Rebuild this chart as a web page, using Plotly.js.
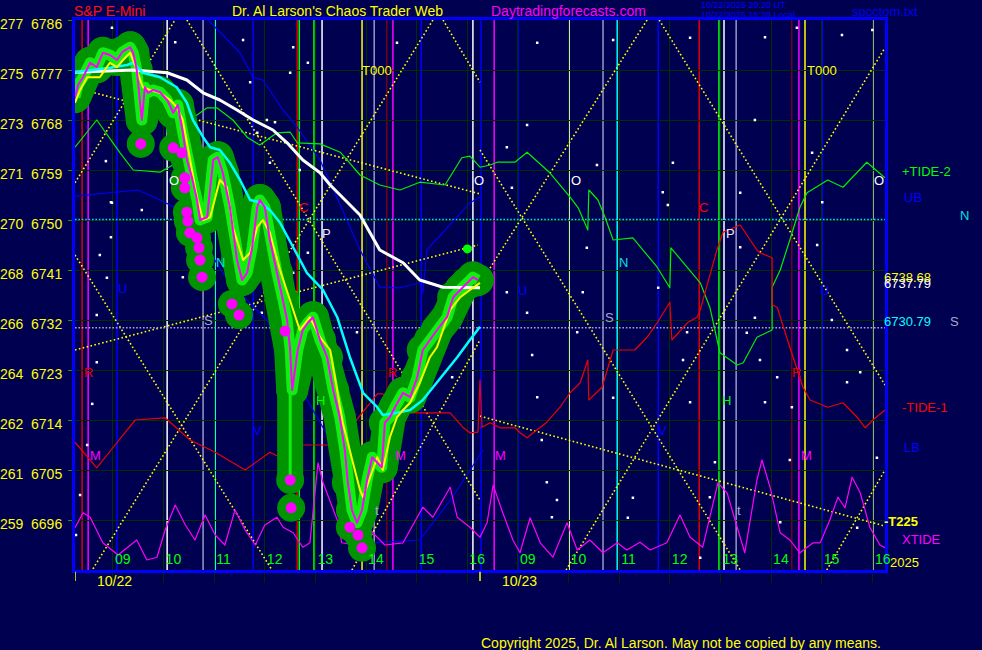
<!DOCTYPE html>
<html><head><meta charset="utf-8">
<script src="https://cdn.plot.ly/plotly-3.0.1.min.js"></script>
<style>
html,body{margin:0;padding:0;background:#000050;}
#chart{width:982px;height:650px;}
.js-line{stroke-linejoin:round;}
</style>
</head><body><div id="chart"></div>
<script>
// ---------- axis data ----------
const hourTicks  = [9,10,11,12,13,14,15,16,17,18,19,20,21,22,23,24];
const hourLabels = ['09','10','11','12','13','14','15','16','09','10','11','12','13','14','15','16'];
const dayStarts  = [8.25, 16.25];
const dayLabels  = ['10/22','10/23'];
const priceTicks = [6687,6696,6705,6714,6723,6732,6741,6750,6759,6768,6777,6786];
const degreeLabels = ['257','259','261','262','264','266','268','270','271','273','275','277'];

// ---------- price action (day 1) : [hour, price] ----------
const closePath = [[8.25,6772.1],[8.31,6774.3],[8.41,6775.7],[8.55,6778.3],[8.68,6777.5],[8.80,6780.1],[8.94,6779.7],[9.08,6778.8],[9.18,6780.2],[9.34,6781.1],[9.40,6780.1],[9.47,6777.0],[9.57,6768.0],[9.63,6773.9],[9.69,6772.9],[9.79,6773.4],[9.93,6773.0],[10.07,6771.6],[10.19,6769.3],[10.28,6770.7],[10.38,6765.7],[10.46,6760.8],[10.56,6757.7],[10.66,6753.6],[10.72,6750.0],[10.86,6750.5],[10.98,6760.8],[11.07,6761.3],[11.17,6758.5],[11.31,6752.3],[11.45,6742.8],[11.55,6739.2],[11.65,6740.5],[11.75,6745.1],[11.85,6752.3],[11.90,6753.6],[12.00,6752.3],[12.10,6746.4],[12.24,6740.5],[12.36,6735.6],[12.44,6732.0],[12.50,6726.6],[12.54,6719.4],[12.65,6726.6],[12.75,6730.2],[12.85,6731.5],[12.95,6732.5],[13.09,6728.4],[13.23,6725.3],[13.35,6719.4],[13.48,6714.5],[13.58,6708.6],[13.64,6702.7],[13.72,6697.8],[13.82,6695.5],[13.92,6697.8],[14.02,6703.2],[14.12,6707.3],[14.22,6706.3],[14.31,6705.5],[14.37,6713.5],[14.47,6714.5],[14.57,6716.3],[14.73,6718.9],[14.87,6718.1],[15.01,6721.7],[15.12,6726.6],[15.26,6728.4],[15.40,6730.2],[15.60,6732.5],[15.72,6736.1],[15.86,6737.4],[16.00,6738.7],[16.11,6739.7],[16.21,6739.2]];
const longWick = [[12.50,6731.0],[12.50,6703.2]];
const fastAvg = [[8.25,6771.1],[8.35,6773.4],[8.49,6775.7],[8.74,6775.7],[8.94,6778.3],[9.08,6777.5],[9.20,6778.8],[9.34,6780.1],[9.47,6777.0],[9.59,6773.9],[9.73,6773.4],[9.93,6772.9],[10.13,6771.6],[10.26,6770.3],[10.38,6768.0],[10.52,6760.8],[10.66,6754.1],[10.78,6750.0],[10.92,6750.5],[11.11,6757.2],[11.25,6755.9],[11.37,6748.7],[11.57,6742.8],[11.71,6744.1],[11.85,6748.7],[11.96,6750.0],[12.10,6747.7],[12.30,6741.0],[12.50,6735.6],[12.69,6730.2],[12.89,6732.5],[13.09,6728.9],[13.29,6726.6],[13.43,6719.4],[13.54,6713.5],[13.74,6706.3],[13.88,6701.4],[13.94,6700.1],[14.08,6703.7],[14.22,6707.3],[14.33,6705.0],[14.47,6710.9],[14.61,6714.5],[14.73,6715.8],[14.87,6717.1],[15.06,6720.7],[15.26,6725.3],[15.40,6727.1],[15.66,6733.8],[15.86,6736.1],[16.05,6737.4],[16.25,6738.68]];
const midAvg = [[8.25,6776.6],[8.61,6777.0],[8.94,6777.4],[9.28,6777.9],[9.40,6778.3],[9.59,6776.5],[9.93,6775.7],[10.26,6773.9],[10.46,6771.1],[10.58,6768.0],[10.78,6764.9],[10.92,6763.1],[11.11,6762.6],[11.31,6760.3],[11.51,6757.2],[11.71,6753.6],[11.90,6753.2],[12.10,6751.8],[12.30,6749.5],[12.56,6745.1],[12.83,6740.5],[13.15,6737.4],[13.43,6732.5],[13.68,6725.3],[13.94,6718.9],[14.22,6716.3],[14.33,6714.9],[14.61,6715.3],[14.87,6715.8],[15.12,6717.6],[15.40,6720.7],[15.80,6725.3],[16.05,6728.4],[16.25,6730.79]];
const slowAvg = [[8.25,6776.6],[8.74,6776.8],[9.40,6777.0],[10.07,6776.5],[10.46,6775.2],[10.78,6772.9],[11.11,6771.6],[11.45,6769.8],[11.77,6768.0],[12.16,6766.2],[12.44,6763.9],[12.75,6760.8],[13.09,6758.5],[13.29,6756.3],[13.88,6750.9],[14.27,6744.6],[14.73,6742.3],[15.06,6739.2],[15.52,6737.9],[16.25,6737.79]];
const extremeDots = [[9.55,6763.7],[10.19,6763.0],[10.36,6762.1],[10.42,6757.6],[10.42,6755.8],[10.46,6751.4],[10.48,6749.8],[10.52,6747.7],[10.66,6746.8],[10.70,6745.0],[10.72,6742.8],[10.76,6739.7],[11.35,6734.9],[11.49,6732.9],[12.40,6730.0],[12.50,6703.2],[12.52,6698.2],[13.68,6694.7],[13.84,6693.3],[13.92,6691.0]];
const forecastDot = [[16.00,6744.8]];

// ---------- tides : [hour, price] ----------
const tidePlus2 = [[8.25,6763.1],[8.68,6768.0],[9.14,6762.1],[9.40,6759.0],[9.93,6758.6],[10.26,6760.3],[10.52,6768.0],[10.86,6770.2],[11.05,6770.2],[11.37,6768.0],[11.65,6764.9],[11.90,6763.5],[12.24,6765.7],[12.50,6765.8],[12.64,6763.9],[13.09,6763.7],[13.49,6762.2],[13.88,6758.1],[14.27,6756.3],[14.67,6755.4],[15.06,6756.8],[15.56,6756.3],[15.89,6761.2],[16.05,6761.5],[16.25,6759.5],[16.45,6759.9],[16.59,6760.4],[16.94,6760.4],[17.18,6762.2],[17.63,6758.5],[18.03,6754.1],[18.19,6752.2],[18.38,6748.2],[18.40,6755.4],[18.58,6753.6],[18.72,6750.5],[18.88,6746.4],[19.27,6746.8],[19.75,6741.5],[20.00,6737.8],[20.02,6745.0],[20.34,6741.5],[20.60,6738.7],[20.79,6734.3],[20.99,6726.1],[21.33,6723.9],[21.45,6724.3],[21.72,6728.9],[22.02,6730.2],[22.02,6737.9],[22.18,6741.0],[22.37,6746.4],[22.57,6752.3],[22.71,6754.9],[23.12,6757.2],[23.42,6755.9],[23.89,6760.4],[24.25,6757.6]];
const tideMinus1 = [[8.25,6710.0],[8.68,6705.4],[9.04,6709.5],[9.44,6714.0],[10.03,6714.4],[10.52,6710.4],[11.02,6708.2],[11.61,6705.0],[12.10,6708.2],[12.30,6707.3],[12.50,6707.3],[12.75,6709.5],[13.29,6709.5],[13.62,6711.8],[14.08,6717.1],[14.22,6718.7],[14.33,6718.7],[14.67,6716.3],[14.73,6715.3],[15.66,6715.3],[15.91,6712.7],[16.05,6711.7],[16.21,6711.8],[16.25,6721.2],[16.29,6712.7],[16.45,6713.5],[16.65,6712.6],[16.94,6712.6],[17.04,6711.7],[17.18,6710.8],[17.30,6711.7],[17.57,6713.6],[17.83,6716.3],[18.03,6718.9],[18.23,6720.7],[18.38,6724.8],[18.40,6717.6],[18.66,6719.9],[18.72,6721.7],[18.88,6726.6],[19.31,6726.6],[19.55,6728.9],[19.75,6731.5],[20.00,6735.2],[20.04,6728.4],[20.36,6731.6],[20.54,6732.5],[20.60,6733.8],[20.93,6744.6],[21.05,6747.8],[21.39,6749.1],[21.72,6744.6],[21.78,6744.1],[22.02,6743.2],[22.02,6734.7],[22.12,6734.3],[22.37,6727.1],[22.63,6719.9],[22.77,6717.6],[23.12,6716.3],[23.42,6717.1],[23.70,6714.5],[23.86,6712.6],[24.01,6714.0],[24.25,6715.8]];
const xTide = [[8.25,6694.6],[8.41,6697.3],[8.55,6696.5],[8.80,6691.9],[9.10,6689.7],[9.34,6691.5],[9.47,6692.4],[9.67,6688.8],[9.87,6689.3],[10.03,6694.2],[10.23,6698.7],[10.43,6695.1],[10.62,6692.4],[10.82,6696.9],[11.02,6693.3],[11.21,6691.5],[11.41,6697.8],[11.61,6694.2],[11.81,6691.5],[12.00,6695.1],[12.24,6696.5],[12.36,6694.7],[12.56,6693.7],[12.75,6691.1],[12.89,6691.9],[13.05,6706.3],[13.15,6702.7],[13.43,6696.0],[13.52,6691.9],[13.78,6691.5],[14.08,6694.2],[14.37,6691.5],[14.73,6691.9],[15.12,6698.3],[15.32,6696.5],[15.66,6701.9],[15.80,6696.5],[16.05,6694.7],[16.25,6692.9],[16.39,6695.5],[16.51,6702.3],[16.68,6697.8],[16.90,6692.4],[17.04,6690.1],[17.24,6696.4],[17.44,6691.9],[17.69,6689.3],[17.97,6695.5],[18.17,6690.6],[18.42,6692.4],[18.68,6690.1],[18.96,6691.9],[19.15,6690.6],[19.41,6692.0],[19.61,6690.6],[19.94,6691.9],[20.20,6696.9],[20.40,6692.9],[20.65,6691.1],[20.95,6702.7],[21.13,6700.9],[21.33,6694.7],[21.48,6690.1],[21.72,6703.2],[21.82,6706.8],[21.98,6701.9],[22.18,6693.7],[22.37,6692.4],[22.57,6690.1],[22.83,6691.9],[22.97,6691.9],[23.16,6696.0],[23.32,6700.1],[23.46,6698.2],[23.60,6703.7],[23.76,6700.9],[23.95,6694.7],[24.15,6691.5],[24.25,6691.0]];
const upperBand = [[10.72,6789.0],[10.88,6786.0],[11.51,6780.1],[11.77,6775.6],[11.96,6775.2],[12.36,6769.8],[12.64,6766.7],[13.09,6760.8],[13.49,6752.7],[13.88,6744.6],[14.27,6737.9],[14.67,6737.8],[15.06,6738.7],[15.12,6736.9],[15.20,6744.6],[15.66,6749.1],[16.05,6753.1],[16.25,6754.1]];
const lowerBand = [[8.25,6754.3],[9.14,6755.0],[9.49,6755.4],[9.93,6753.6],[10.32,6751.8],[10.72,6747.0],[11.17,6740.5],[11.60,6736.0],[12.04,6732.0],[12.69,6719.9],[13.29,6710.4],[13.80,6697.0],[14.08,6691.9],[15.06,6692.4],[15.70,6700.0],[16.31,6708.6]];
const pivotSpecks = [[17.18,6767.1],[16.78,6763.1],[18.56,6759.9],[16.88,6755.8],[20.06,6760.3],[19.86,6755.0],[21.68,6768.0],[22.81,6762.1],[23.01,6753.2],[22.91,6745.5],[21.39,6754.9],[21.39,6745.1],[19.96,6752.7],[18.36,6745.0],[16.78,6737.0],[18.28,6737.0],[17.18,6733.3],[19.77,6737.8],[21.68,6732.4],[23.20,6732.0],[18.17,6729.8],[20.34,6729.8],[17.28,6725.7],[20.26,6724.8],[21.52,6729.7],[21.78,6724.8],[22.12,6721.7],[23.50,6726.6],[23.76,6722.6],[17.38,6718.1],[18.88,6718.0],[21.88,6717.2],[20.40,6717.2],[22.41,6716.3],[17.47,6710.4],[20.89,6706.4],[22.37,6706.8],[24.09,6707.2],[19.27,6700.0],[17.57,6702.8],[17.77,6699.6],[20.79,6700.1],[17.67,6696.5],[19.17,6696.4],[22.18,6695.6],[23.70,6694.6],[20.60,6689.2],[23.50,6720.8],[8.98,6784.6],[11.57,6782.4],[12.56,6781.1],[10.23,6782.0],[11.71,6774.8],[12.85,6778.3],[12.50,6776.5],[11.85,6765.7],[12.04,6768.0],[12.20,6767.6],[12.10,6760.3],[11.05,6755.9],[8.98,6753.1],[9.57,6751.8],[8.74,6743.7],[8.68,6732.9],[10.38,6739.7],[12.69,6759.0],[11.17,6747.3],[12.85,6744.1],[12.56,6740.5],[11.61,6742.3],[11.94,6733.3],[8.86,6760.6],[8.96,6753.2],[8.96,6746.9],[8.88,6739.6],[8.68,6724.4],[8.59,6716.9],[8.49,6709.5],[8.35,6700.5],[8.27,6693.3],[13.82,6729.8],[15.70,6721.7],[14.61,6781.9],[17.38,6781.9],[18.88,6782.4],[20.40,6782.8],[21.88,6782.9],[22.51,6784.6],[23.40,6783.3],[24.00,6784.2]];

// ---------- geometry lines : [hour0, price0, hour1, price1] ----------
const fanLines = [[8.25,6756.7,10.225,6786],[10.46,6786,16.25,6699.6],[8.25,6726.6,16.21,6745.5],[8.25,6773.8,16.25,6754.7],[15.32,6786,8.59,6687],[15.52,6786,16.25,6774.8],[8.25,6743.7,12.14,6687],[13.72,6687,16.25,6728.4],[16.25,6762.6,21.39,6687],[17.95,6687,24.25,6781],[19.79,6786,24.25,6720.3],[19.55,6786,16.25,6738.5],[23.10,6687,24.25,6705]];
const t225Line = [16.25,6714.7,24.25,6694.9];
const nLevel = 6750.1;
const sLevel = 6730.6;

// ---------- vertical time markers (hours) ----------
const vRed = [8.39,12.64,20.58];
const vDarkRed = [14.41,22.41];
const vMagenta = [8.51,14.53,16.53,22.55];
const vBlue = [9.08,11.77,15.09,16.27,17.00,19.77,23.01];
const vWhite = [10.07,13.13,16.11,18.01,21.07,24.01];
const vLavender = [10.78,14.16,18.68,21.31];
const vCyan = [11.02,18.96];
const vGreen = [12.68,12.97,20.97];
const vYellow = [13.92,22.67];

// ---------- letter markers ----------
const markLetters = ['O','O','O','O','N','N','S','S','U','U','U','C','C','P','P','R','R','R','H','H','M','M','M','M','V','V','t','t','T000','T000'];
const markT = [10.21,16.23,18.15,24.13,11.13,19.09,10.88,18.80,9.18,17.08,23.06,12.77,20.67,13.21,21.19,8.51,14.53,22.51,13.09,21.11,8.65,14.67,16.66,22.69,11.86,19.86,14.22,21.37,14.22,23.01];
const markP = [6757.2,6757.2,6757.2,6757.2,6742.4,6742.3,6732.0,6732.4,6737.6,6737.4,6737.4,6752.2,6752.2,6747.5,6747.5,6722.5,6722.5,6722.5,6717.6,6717.6,6707.7,6707.7,6707.7,6707.7,6712.2,6712.2,6697.8,6697.8,6777.0,6777.0];

// ================= build =================
const FONT = 'Liberation Sans, Arial, sans-serif';
const letterColor = {O:'#ffffff',N:'#00e0e0',S:'#a8a8c8',U:'#0000ff',C:'#ff0000',P:'#e8e8ff',R:'#e00000',H:'#00ff00',M:'#ff00ff',V:'#0000ff',t:'#a8a8c8',T000:'#ffff00'};
const xs = a => a.map(p => p[0]);
const ys = a => a.map(p => p[1]);

function lineSeg(list){
  const x=[],y=[];
  list.forEach(l=>{x.push(l[0],l[2],null);y.push(l[1],l[3],null);});
  return {x,y};
}
const fan = lineSeg(fanLines.concat([t225Line]));

const HALO = '#009400';
const traces = [];
traces.push({x:xs(pivotSpecks),y:ys(pivotSpecks),mode:'markers',marker:{color:'#ffffff',size:2.5,symbol:'square'}});
traces.push({x:fan.x,y:fan.y,mode:'lines',line:{color:'#ffff00',width:1.6,dash:'1.6px,2.4px'}});
traces.push({x:[8.25,24.25],y:[nLevel,nLevel],mode:'lines',line:{color:'#00e0e0',width:1.4,dash:'1.6px,1.8px'}});
traces.push({x:[8.25,24.25],y:[sLevel,sLevel],mode:'lines',line:{color:'#a8a8d8',width:1.4,dash:'1.6px,1.8px'}});
traces.push({x:xs(upperBand),y:ys(upperBand),mode:'lines',line:{color:'#0000ee',width:1.2}});
traces.push({x:xs(lowerBand),y:ys(lowerBand),mode:'lines',line:{color:'#0000ee',width:1.2}});
traces.push({x:xs(tidePlus2),y:ys(tidePlus2),mode:'lines',line:{color:'#00ee00',width:1.2}});
traces.push({x:xs(tideMinus1),y:ys(tideMinus1),mode:'lines',line:{color:'#ee0000',width:1.2}});
traces.push({x:xs(xTide),y:ys(xTide),mode:'lines',line:{color:'#ff00ff',width:1.2}});
// green halo around price
traces.push({x:xs(closePath),y:ys(closePath),mode:'lines+markers',line:{color:HALO,width:32},marker:{color:HALO,size:32}});
traces.push({x:xs(longWick),y:ys(longWick),mode:'lines',line:{color:HALO,width:26}});
traces.push({x:xs(extremeDots),y:ys(extremeDots),mode:'markers',marker:{color:HALO,size:28}});
traces.push({x:xs(closePath),y:ys(closePath),mode:'lines',line:{color:'#10f010',width:11}});
traces.push({x:xs(longWick),y:ys(longWick),mode:'lines',line:{color:'#10f010',width:3}});
traces.push({x:xs(extremeDots),y:ys(extremeDots),mode:'markers',marker:{color:'#ff00ff',size:11}});
traces.push({x:xs(forecastDot),y:ys(forecastDot),mode:'markers',marker:{color:'#00ff00',size:9}});
traces.push({x:xs(slowAvg),y:ys(slowAvg),mode:'lines',line:{color:'#ffffff',width:3}});
traces.push({x:xs(midAvg),y:ys(midAvg),mode:'lines',line:{color:'#00ffff',width:2.5}});
traces.push({x:xs(fastAvg),y:ys(fastAvg),mode:'lines',line:{color:'#ffff00',width:2}});
traces.push({x:xs(closePath),y:ys(closePath),mode:'lines',line:{color:'#ff00ff',width:2}});

// vertical lines as shapes
const shapes = [];
const vGroups = [[vRed,'#e00000',1.5],[vDarkRed,'#b00000',1],[vMagenta,'#ff00ff',1.5],[vBlue,'#0000ff',1.5],[vWhite,'#ffffff',1.5],[vLavender,'#9898c8',1.5],[vCyan,'#00ffff',1.5],[vGreen,'#00ff00',1.5],[vYellow,'#ffff00',1.5]];
vGroups.forEach(g=>g[0].forEach(t=>shapes.push({type:'line',xref:'x',yref:'paper',x0:t,x1:t,y0:0,y1:1,layer:'between',line:{color:g[1],width:g[2]}})));
dayStarts.forEach(t=>shapes.push({type:'line',xref:'x',yref:'paper',x0:t,x1:t,y0:-0.003,y1:-0.02,line:{color:'#ffff00',width:1.5}}));

const ann = [];
function A(o){ann.push(Object.assign({showarrow:false,font:{family:FONT,size:14}},o));}
markLetters.forEach((s,i)=>A({x:markT[i],y:markP[i],text:s,font:{family:FONT,size:13,color:letterColor[s]}}));
dayStarts.forEach((t,i)=>A({x:t,xref:'x',y:0,yref:'paper',xanchor:'left',yanchor:'top',xshift:20,yshift:-1,text:dayLabels[i],font:{family:FONT,size:14,color:'#ffff00'}}));
// last hour label sits on the right frame edge (partly covered)
A({x:hourTicks[15],xref:'x',y:0,yref:'paper',xanchor:'left',yanchor:'bottom',xshift:1,yshift:1,text:hourLabels[15],font:{family:FONT,size:14,color:'#00ff00'}});
// header
A({x:0,xref:'paper',y:1,yref:'paper',xanchor:'left',yanchor:'bottom',xshift:-3,yshift:-1,text:'S&amp;P E-Mini',font:{family:FONT,size:14,color:'#ff1010'}});
A({x:155/810,xref:'paper',y:1,yref:'paper',xanchor:'left',yanchor:'bottom',yshift:-1,text:"Dr. Al Larson's Chaos Trader Web",font:{family:FONT,size:14,color:'#ffff00'}});
A({x:414/810,xref:'paper',y:1,yref:'paper',xanchor:'left',yanchor:'bottom',yshift:-1,text:'Daytradingforecasts.com',font:{family:FONT,size:14,color:'#ff00ff'}});
A({x:624/810,xref:'paper',y:1,yref:'paper',xanchor:'left',yanchor:'bottom',yshift:8,text:'10/22/2025 20:20 UT',font:{family:FONT,size:9,color:'#0000ff'}});
A({x:624/810,xref:'paper',y:1,yref:'paper',xanchor:'left',yanchor:'bottom',yshift:-2,text:'10/22/2025 15:20 Local',font:{family:FONT,size:9,color:'#0000ff'}});
A({x:775/810,xref:'paper',y:1,yref:'paper',xanchor:'left',yanchor:'bottom',yshift:-1,text:'spcctom.txt',font:{family:FONT,size:13,color:'#0000ee'}});
A({x:404/810,xref:'paper',y:0,yref:'paper',xanchor:'left',yanchor:'middle',yshift:-73,text:'Copyright 2025, Dr. Al Larson. May not be copied by any means.',font:{family:FONT,size:14,color:'#ffff00'}});
// right side labels
const last = a => a[a.length-1][1];
function R(text,y,xs_,ys_,color,bold){A({x:1,xref:'paper',y:y,yref:'y',xanchor:'left',xshift:xs_,yshift:ys_,text:bold?'<b>'+text+'</b>':text,font:{family:FONT,size:13,color:color}});}
R('+TIDE-2',last(tidePlus2),15,6,'#00ff00');
R('UB',last(upperBand),17,0,'#0000ff');
R('N',nLevel,73,4,'#00e0e0');
R(last(fastAvg).toFixed(2),last(fastAvg),-3,5,'#ffff00');
R(last(slowAvg).toFixed(2),last(slowAvg),-3,4,'#ffffff');
R(last(midAvg).toFixed(2),last(midAvg),-3,5,'#00ffff');
R('S',sLevel,63,6,'#a8a8c8');
R('-TIDE-1',last(tideMinus1),15,3,'#ff0000');
R('LB',last(lowerBand),17,3,'#0000ff');
R('-T225',t225Line[3],-3,5,'#ffff00',true);
R('XTIDE',last(xTide),15,8,'#ff00ff');
R('2025',6687,3,8,'#ffff00');

const layout = {
  width:982,height:650,
  margin:{l:75,r:97,t:20,b:80,pad:0},
  paper_bgcolor:'#000050',plot_bgcolor:'#000050',
  showlegend:false,
  xaxis:{range:[8.25,24.25],tickmode:'array',tickvals:hourTicks,ticktext:hourLabels,
    tickfont:{family:FONT,size:14,color:'#00ff00'},ticklabelposition:'inside right',
    ticks:'outside',ticklen:10,tickcolor:'#002800',tickwidth:1,
    showgrid:true,gridcolor:'#003000',gridwidth:1,zeroline:false,
    showline:true,linecolor:'#0000ff',linewidth:3,mirror:true,fixedrange:true},
  yaxis:{range:[6687,6786],tickmode:'array',tickvals:priceTicks,
    ticktext:priceTicks.map((p,i)=>degreeLabels[i]+'\u00a0\u00a0'+p),
    tickfont:{family:FONT,size:14,color:'#ffff00'},ticks:'outside',ticklen:4,tickcolor:'#00a000',
    ticklabelshift:4,ticklabelstandoff:3,
    showgrid:true,gridcolor:'#003000',gridwidth:1,zeroline:false,
    showline:true,linecolor:'#0000ff',linewidth:3,mirror:true,fixedrange:true},
  shapes:shapes,annotations:ann
};
traces.forEach(t=>{t.hoverinfo='skip';});
Plotly.newPlot('chart',traces,layout,{displayModeBar:false,staticPlot:true});
</script></body></html>
